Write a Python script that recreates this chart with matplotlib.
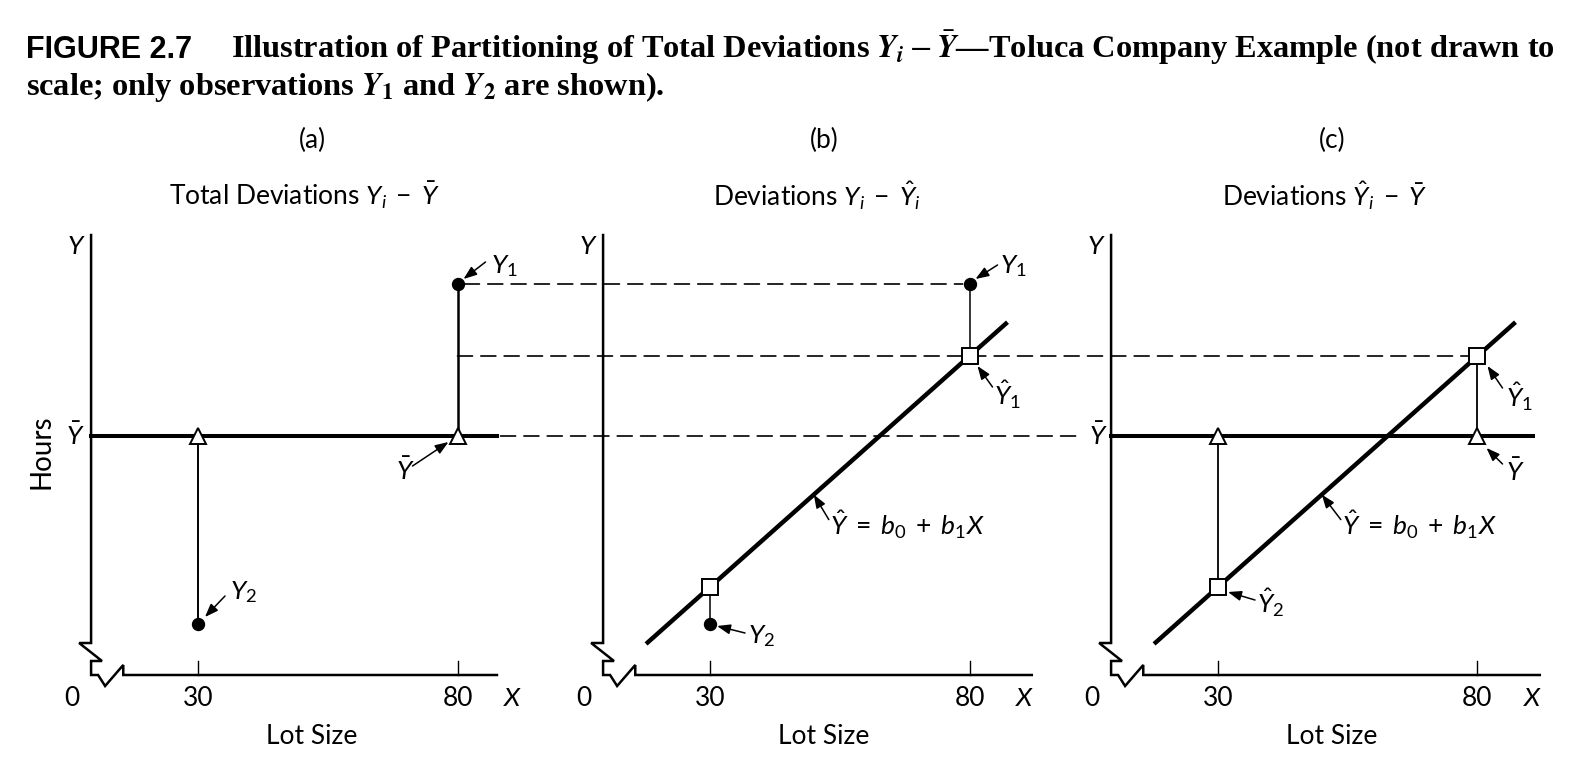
import numpy as np
import matplotlib
matplotlib.use('Agg')
import matplotlib.pyplot as plt
from matplotlib.patches import ConnectionPatch
from matplotlib.transforms import offset_copy

# schematic values (figure is "not drawn to scale")
lot_size = [80, 30]            # X1, X2
hours_obs = [376, 206]         # Y1, Y2
hours_fit = [340, 224.5]       # Yhat1, Yhat2
hours_mean = 300               # Ybar
tick_values = [30, 80]
tick_labels = ['30', '80']
line_x = np.array([18, 87])    # extent of fitted line

panel_tags = ['(a)', '(b)', '(c)']
panel_titles = [r'Total Deviations $Y_i\;-\;\bar{Y}$',
                r'Deviations $Y_i\;-\;\hat{Y}_i$',
                r'Deviations $\hat{Y}_i\;-\;\bar{Y}$']
fit_label = r'$\hat{Y}\;=\;b_0\;+\;b_1X$'

plt.rcParams['font.family'] = 'Lato'
plt.rcParams['mathtext.fontset'] = 'custom'
plt.rcParams['mathtext.rm'] = 'Lato'
plt.rcParams['mathtext.it'] = 'Lato:italic'
plt.rcParams['mathtext.bf'] = 'Lato:bold'

W, H = 1582, 768
fig = plt.figure(figsize=(W / 100, H / 100), dpi=100)
FS = 19

slope = (hours_fit[0] - hours_fit[1]) / (lot_size[0] - lot_size[1])
line_y = hours_fit[1] + slope * (line_x - lot_size[1])

Y_AX = 9.4       # where the vertical axis is drawn
X_AX = 180.5     # where the horizontal axis is drawn


def make_panel(left_px, x_end):
    ax = fig.add_axes([left_px / W, 88 / H, 519 / W, 450 / H])
    ax.set_xlim(0, 100)
    ax.set_ylim(178, 403)
    ax.axis('off')
    ax.patch.set_visible(False)
    # axes with break marks
    fx = Y_AX + np.array([0, 0, -2.3, 2.1, 0, 0, 1.35, 2.7, 6.2, 6.2, x_end - Y_AX])
    fy = np.array([400.5, 196.5, 196.5, 187.5, 187.5, X_AX, X_AX, 175, 185.5, X_AX, X_AX])
    ax.plot(fx, fy, color='black', lw=1.8, solid_joinstyle='miter', clip_on=False)
    for t, lab in zip(tick_values, tick_labels):
        ax.plot([t, t], [X_AX, 187.5], color='black', lw=1.0, clip_on=False)
        ax.text(t, 169, lab, ha='center', va='center', fontsize=FS, clip_on=False)
    ax.text(5.7, 169, '0', ha='center', va='center', fontsize=FS)
    ax.text(90.7, 169, '$X$', ha='center', va='center', fontsize=FS)
    ax.text(6.6, 395, '$Y$', ha='center', va='center', fontsize=FS)
    ax.text(0.52, -0.125, 'Lot Size', transform=ax.transAxes, ha='center', va='center', fontsize=FS)
    return ax


def arrow_label(ax, xy, text, text_off, tail, tip):
    tr_tip = offset_copy(ax.transData, fig=fig, x=tip[0], y=tip[1], units='dots')
    tr_tail = offset_copy(ax.transData, fig=fig, x=tail[0], y=tail[1], units='dots')
    ax.annotate('', xy=xy, xycoords=tr_tip, xytext=xy, textcoords=tr_tail,
                arrowprops=dict(arrowstyle='-|>,head_length=0.8,head_width=0.3',
                                lw=1.1, color='black', shrinkA=0, shrinkB=0,
                                mutation_scale=10))
    ax.annotate(text, xy=xy, xytext=text_off, textcoords='offset pixels',
                ha='left', va='center', fontsize=FS)


ax_a = make_panel(42.3, 87.6)
ax_b = make_panel(554.3, 92)
ax_c = make_panel(1062.3, 92)

for ax, tag, title in zip([ax_a, ax_b, ax_c], panel_tags, panel_titles):
    ax.text(0.52, 1.198, tag, transform=ax.transAxes, ha='center', va='center', fontsize=FS)
    ax.text(0.505, 1.076, title, transform=ax.transAxes, ha='center', va='center', fontsize=FS)

fig.text(41 / W, 1 - 452 / H, 'Hours', rotation=90, ha='center', va='center', fontsize=FS + 1)

dot = dict(marker='o', ms=8.6, color='black', ls='none', zorder=5)
tri = dict(marker='^', ms=11, mfc='white', mec='black', mew=1.4, ls='none', zorder=5)
sq = dict(marker='s', ms=11, mfc='white', mec='black', mew=1.4, ls='none', zorder=5)

# (a) total deviations
ax_a.plot([Y_AX, 87.6], [hours_mean, hours_mean], color='black', lw=2.9)
ax_a.plot([lot_size[0]] * 2, [hours_mean, hours_obs[0]], color='black', lw=1.8)
ax_a.plot([lot_size[1]] * 2, [hours_mean, hours_obs[1]], color='black', lw=1.4)
ax_a.plot(lot_size, hours_obs, **dot)
ax_a.plot(lot_size, [hours_mean] * 2, **tri)
ax_a.text(6.3, hours_mean, r'$\bar{Y}$', ha='center', va='center', fontsize=FS)
arrow_label(ax_a, (lot_size[0], hours_obs[0]), '$Y_1$', (33, 18), (28, 22), (6, 5))
arrow_label(ax_a, (lot_size[1], hours_obs[1]), '$Y_2$', (32, 32), (27, 28), (7, 7))
arrow_label(ax_a, (lot_size[0], hours_mean), r'$\bar{Y}$', (-62, -35), (-45, -30), (-9, -6))

# (b) deviations around fitted line
ax_b.plot(line_x, line_y, color='black', lw=3.2)
for x, yo, yf in zip(lot_size, hours_obs, hours_fit):
    ax_b.plot([x, x], [yo, yf], color='black', lw=1.1)
ax_b.plot(lot_size, hours_obs, **dot)
ax_b.plot(lot_size, hours_fit, **sq)
x_mid = 50
y_mid = hours_fit[1] + slope * (x_mid - lot_size[1])
arrow_label(ax_b, (lot_size[0], hours_obs[0]), '$Y_1$', (30, 18), (28, 19), (6, 5))
arrow_label(ax_b, (lot_size[0], hours_fit[0]), r'$\hat{Y}_1$', (24, -39), (23, -31), (8, -10))
arrow_label(ax_b, (x_mid, y_mid), fit_label, (16, -30), (15, -25), (0, 0))
arrow_label(ax_b, (lot_size[1], hours_obs[1]), '$Y_2$', (38, -12), (35, -9), (7, -2))

# (c) deviations of fitted values around the mean
ax_c.plot([Y_AX, 90.7], [hours_mean, hours_mean], color='black', lw=2.9)
ax_c.plot(line_x, line_y, color='black', lw=3.2)
for x, yf in zip(lot_size, hours_fit):
    ax_c.plot([x, x], [yf, hours_mean], color='black', lw=1.3)
ax_c.plot(lot_size, hours_fit, **sq)
ax_c.plot(lot_size, [hours_mean] * 2, **tri)
ax_c.text(6.9, hours_mean, r'$\bar{Y}$', ha='center', va='center', fontsize=FS)
arrow_label(ax_c, (lot_size[0], hours_fit[0]), r'$\hat{Y}_1$', (29, -41), (25, -32), (10, -10))
arrow_label(ax_c, (lot_size[0], hours_mean), r'$\bar{Y}$', (29, -36), (25, -28), (9, -12))
arrow_label(ax_c, (x_mid, y_mid), fit_label, (20, -30), (19, -25), (0, 0))
arrow_label(ax_c, (lot_size[1], hours_fit[1]), r'$\hat{Y}_2$', (39, -16), (37, -13), (10, -5))

# dashed guide lines joining the panels
dash = dict(linestyle=(0, (9, 5)), lw=1.2, color='black', zorder=-1)
guides = [
    (ax_a, (lot_size[0], hours_obs[0]), ax_b, (lot_size[0], hours_obs[0]), 5, 5),
    (ax_a, (lot_size[0], hours_fit[0]), ax_c, (lot_size[0], hours_fit[0]), 0, 0),
    (ax_a, (88.3, hours_mean), ax_c, (3.0, hours_mean), 0, 0),
]
for a1, p1, a2, p2, s1, s2 in guides:
    con = ConnectionPatch(xyA=p1, coordsA='data', axesA=a1, xyB=p2, coordsB='data', axesB=a2,
                          shrinkA=s1, shrinkB=s2, **dash)
    fig.add_artist(con)

# caption
fig.text(26 / W, 1 - 58 / H, 'FIGURE 2.7', fontfamily='Liberation Sans', fontweight='bold',
         fontsize=22, va='baseline')
cap_kw = dict(fontfamily='Liberation Serif', fontweight='bold', fontsize=23.3, va='baseline',
              math_fontfamily='stix')
fig.text(231 / W, 1 - 58 / H,
         r'Illustration of Partitioning of Total Deviations $\mathbfit{Y}_{\mathbfit{i}} - \bar{\mathbfit{Y}}$'
         '\u2014Toluca Company Example (not drawn to', **cap_kw)
fig.text(26 / W, 1 - 95 / H,
         r'scale; only observations $\mathbfit{Y}_{\mathbf{1}}$ and $\mathbfit{Y}_{\mathbf{2}}$ are shown).', **cap_kw)

fig.savefig('out.png', dpi=100)
